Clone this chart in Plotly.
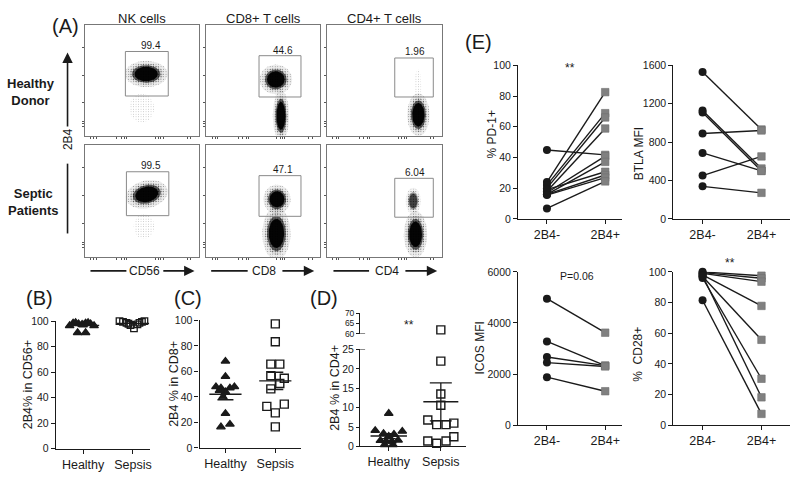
import numpy as np
import plotly.graph_objects as go

W, H = 800, 479

# ---------------- Panel A : flow cytometry ----------------
flow_titles = ["NK cells", "CD8+ T cells", "CD4+ T cells"]
flow_rows = ["Healthy<br>Donor", "Septic<br>Patients"]
flow_xlabels = ["CD56", "CD8", "CD4"]
gate_pct = ["99.4", "44.6", "1.96", "99.5", "47.1", "6.04"]
gate_x0 = [35.7, 46.2, 58.9, 36.6, 46.2, 58.9]
gate_x1 = [73.4, 83.1, 92.5, 73.9, 83.1, 92.5]
gate_y0 = [36.0, 35.1, 35.1, 36.8, 36.2, 35.4]
gate_y1 = [76.4, 72.6, 70.5, 76.3, 72.8, 70.4]
label_x = [57.9, 67.5, 76.5, 57.9, 67.5, 76.5]
label_y = [81.4, 77.6, 76.4, 82.2, 78.4, 75.7]
# cell populations (panel, centre, half-extent, tilt, density)
pop_panel = [0, 0, 1, 1, 2, 2, 3, 3, 4, 4, 5, 5]
pop_cx = [54, 50, 61, 65.5, 79.5, 79, 54.5, 52, 62, 61.5, 75, 77]
pop_cy = [56, 25, 51, 18, 19, 45, 56, 27, 51.5, 20.8, 50, 20]
pop_sx = [12.5, 11, 9.5, 4.8, 6.5, 3, 12.5, 9, 8, 8.3, 4.4, 6.8]
pop_sy = [8, 13, 9, 15.5, 13, 15, 8.3, 11, 8.8, 16, 8, 14]
pop_tilt = [0, 0, 0, 0, 0, 0, 14, 0, 0, 0, 0, 0]
pop_dens = [1, 0.15, 1, 1, 1, 0.15, 1, 0.15, 1, 1, 0.6, 1]

# ---------------- Panels B, C, D ----------------
groups = ["Healthy", "Sepsis"]
b_healthy = [96.5, 98.5, 99.0, 98.0, 97.5, 98.5, 99.0, 98.0, 96.5, 91.0, 91.0, 97.0]
b_healthy_dx = [-0.27, -0.2, -0.15, -0.09, -0.02, 0.05, 0.1, 0.15, 0.22, -0.11, 0.05, 0.0]
b_sepsis = [100, 99.5, 98.7, 98.0, 97.0, 94.4, 97.5, 98.7, 99.5, 100]
b_sepsis_dx = [-0.27, -0.2, -0.13, -0.09, -0.05, 0.02, 0.09, 0.13, 0.18, 0.23]

c_healthy = [68, 56, 48, 47, 47, 48, 44, 45, 40, 27, 16.5, 18.6]
c_healthy_dx = [0, 0, -0.19, -0.09, 0.09, 0.18, 0.0, -0.12, -0.05, 0, -0.09, 0.09]
c_sepsis = [97.3, 83.3, 65.7, 65.7, 56.6, 54.7, 50.5, 46.3, 32.6, 34.4, 27.5, 16.5]
c_sepsis_dx = [0, 0, -0.09, 0.09, -0.09, 0.18, 0.09, -0.09, -0.17, 0.18, 0, 0]

d_healthy = [8.5, 4.1, 3.9, 3.3, 3.1, 2.6, 1.5, 1.3, 1.3, 1.6, 0.4, 0.4]
d_healthy_dx = [0, -0.26, 0.26, -0.1, 0.1, 0.0, -0.16, -0.05, 0.06, 0.18, -0.08, 0.08]
d_sepsis = [61.8, 22.0, 13.5, 10.6, 6.8, 5.6, 5.6, 6.0, 1.4, 0.8, 1.4, 2.5]
d_sepsis_dx = [0, 0, 0, 0, -0.25, -0.08, 0.1, 0.25, -0.25, -0.08, 0.1, 0.25]

# ---------------- Panel E (paired) ----------------
pair_labels = ["2B4-", "2B4+"]
e_pd1_neg = [44.9, 24.0, 22.0, 20.0, 18.0, 17.0, 16.0, 19.0, 16.0, 15.5, 6.8]
e_pd1_pos = [41.7, 82.6, 68.9, 66.1, 58.9, 40.9, 37.1, 30.7, 28.6, 26.9, 24.4]
e_btla_neg = [1532, 1130, 1110, 891, 688, 451, 339]
e_btla_pos = [932, 525, 500, 922, 500, 651, 271]
e_icos_neg = [4950, 3280, 2670, 2450, 1880]
e_icos_pos = [3620, 2330, 2330, 2300, 1330]
e_cd28_neg = [100, 99.5, 99, 98, 97, 96, 97.5, 81.5]
e_cd28_pos = [97.5, 95.8, 93.6, 77.8, 55.7, 30.3, 18.2, 7.4]

# ======================================================
FONT = "Arial, Liberation Sans, sans-serif"
INK = "#1a1a1a"


def fx(p):
    return p / W


def fy(p):
    return 1 - p / H


fig = go.Figure()
layout = dict(width=W, height=H, margin=dict(l=0, r=0, t=0, b=0),
              paper_bgcolor="white", plot_bgcolor="rgba(0,0,0,0)",
              showlegend=False, font=dict(family=FONT, color=INK))
annotations = []
shapes = []


def ann(text, x, y, size, **kw):
    d = dict(text=text, x=fx(x), y=fy(y), xref="paper", yref="paper",
             showarrow=False, font=dict(size=size, family=FONT, color=INK),
             xanchor="center", yanchor="middle")
    d.update(kw)
    annotations.append(d)


# ---------- Panel A axes ----------
cols = [(85, 199), (207, 321), (328, 443)]
rows = [(20, 133), (143, 257)]
for i in range(6):
    r, c = divmod(i, 3)
    n = i + 1
    layout[f"xaxis{n}"] = dict(domain=[fx(cols[c][0]), fx(cols[c][1])], range=[0, 100],
                               anchor=f"y{n}", showline=True, mirror=True, linecolor="#777",
                               linewidth=1, ticks="outside", ticklen=2, tickcolor="#555",
                               tickvals=[5, 8, 10, 28, 32, 35, 37, 62, 65, 67, 69, 90, 93],
                               showticklabels=False, showgrid=False, zeroline=False)
    layout[f"yaxis{n}"] = dict(domain=[fy(rows[r][1]), fy(rows[r][0])], range=[0, 100],
                               anchor=f"x{n}", showline=True, mirror=True, linecolor="#777",
                               linewidth=1, ticks="outside", ticklen=2, tickcolor="#555",
                               tickvals=[8, 11, 13, 30, 55, 80],
                               showticklabels=False, showgrid=False, zeroline=False)


def ellipse(cx, cy, rx, ry, ang, n=72):
    t = np.linspace(0, 2 * np.pi, n)
    a = np.deg2rad(ang)
    x = rx * np.cos(t)
    y = ry * np.sin(t)
    return cx + x * np.cos(a) - y * np.sin(a), cy + x * np.sin(a) + y * np.cos(a)


for k in range(len(pop_panel)):
    n = pop_panel[k] + 1
    d = pop_dens[k]
    if d < 0.3:
        layers = [(1.0, "pattern", 0.07)]
    else:
        layers = [(1.5, "halo", 0.07 * d), (1.5, "pattern", 0.12 * d), (1.2, "pattern", 0.3 * d),
                  (1.0, "solid", 0.6 * d), (0.82, "solid", 0.95 * d)]
    for scale, kind, val in layers:
        ex, ey = ellipse(pop_cx[k], pop_cy[k], pop_sx[k] * scale, pop_sy[k] * scale, pop_tilt[k])
        kw = dict(x=ex, y=ey, mode="lines", fill="toself", line=dict(width=0),
                  xaxis=f"x{n}", yaxis=f"y{n}", hoverinfo="skip")
        if kind in ("solid", "halo"):
            kw["fillcolor"] = f"rgba(0,0,0,{val:.3f})"
        else:
            kw["fillcolor"] = "rgba(0,0,0,0)"
            kw["fillpattern"] = dict(shape=".", size=2.5, solidity=min(val, 0.9), fgcolor="black",
                                     bgcolor="rgba(0,0,0,0)")
        fig.add_trace(go.Scatter(**kw))

for i in range(6):
    n = i + 1
    shapes.append(dict(type="rect", xref=f"x{n}", yref=f"y{n}", x0=gate_x0[i], x1=gate_x1[i],
                       y0=gate_y0[i], y1=gate_y1[i], line=dict(color="#8a8a8a", width=1)))
    annotations.append(dict(text=gate_pct[i], x=label_x[i], y=label_y[i], xref=f"x{n}", yref=f"y{n}",
                            showarrow=False, font=dict(size=10, family=FONT, color=INK)))

ann("(A)", 65.7, 21, 20)
for c, t in enumerate(flow_titles):
    ann(t, (cols[c][0] + cols[c][1]) / 2, 12.5, 13)
ann(flow_rows[0], 31, 88, 13, font=dict(size=13, family=FONT, color=INK, weight="bold"))
ann(flow_rows[1], 34, 201, 13, font=dict(size=13, family=FONT, color=INK, weight="bold"))
ann("2B4", 67.7, 137, 12, textangle=-90)

# vertical arrow
shapes.append(dict(type="line", xref="paper", yref="paper", x0=fx(67.7), x1=fx(67.7),
                   y0=fy(233.3), y1=fy(161.7), line=dict(color=INK, width=1.6)))
annotations.append(dict(x=fx(67.7), y=fy(47.7), xref="paper", yref="paper", text="",
                        showarrow=True, ax=0, ay=123.3 - 47.7, arrowhead=2, arrowsize=1.3,
                        arrowwidth=1.6, arrowcolor=INK))
# horizontal arrows
harrows = [(90.7, 126.7, 145, 162.3, 195), (211.7, 248.3, 265, 281.7, 315), (334.3, 370, 388, 405, 438.3)]
for (l0, l1, tx, a0, a1), lab in zip(harrows, flow_xlabels):
    shapes.append(dict(type="line", xref="paper", yref="paper", x0=fx(l0), x1=fx(l1),
                       y0=fy(271.7), y1=fy(271.7), line=dict(color=INK, width=1.6)))
    annotations.append(dict(x=fx(a1), y=fy(271.7), xref="paper", yref="paper", text="",
                            showarrow=True, ax=-(a1 - a0), ay=0, arrowhead=2, arrowsize=1.3,
                            arrowwidth=1.6, arrowcolor=INK))
    ann(lab, tx, 272, 12)


# ---------- dot-plot panels ----------
def value_axes(n, xdom, ydom, xr, yr, tickvals, ticktext=None):
    layout[f"xaxis{n}"] = dict(domain=[fx(xdom[0]), fx(xdom[1])], range=xr, anchor=f"y{n}",
                               showline=True, linecolor=INK, linewidth=1.1, ticks="outside",
                               ticklen=4, tickwidth=1, tickcolor=INK, tickvals=[0, 1],
                               ticktext=ticktext, tickfont=dict(size=12.5, family=FONT, color=INK),
                               showgrid=False, zeroline=False)
    layout[f"yaxis{n}"] = dict(domain=[fy(ydom[0]), fy(ydom[1])], range=yr, anchor=f"x{n}",
                               showline=True, linecolor=INK, linewidth=1.1, ticks="outside",
                               ticklen=4, tickwidth=1, tickcolor=INK, tickvals=tickvals,
                               tickfont=dict(size=10.5, family=FONT, color=INK),
                               showgrid=False, zeroline=False)


def mean_sem(v):
    a = np.asarray(v, float)
    return a.mean(), a.std(ddof=1) / np.sqrt(len(a))


def dots(n, vals, dx, grp, symbol, size, yaxis=None, lw=1.3):
    fig.add_trace(go.Scatter(x=[grp + d for d in dx], y=vals, mode="markers",
                             marker=dict(symbol=symbol, size=size, color=INK,
                                         line=dict(color=INK, width=lw)),
                             xaxis=f"x{n}", yaxis=yaxis or f"y{n}", cliponaxis=False,
                             hoverinfo="skip"))


def meanbar(n, vals, grp, msize, capw):
    m, s = mean_sem(vals)
    fig.add_trace(go.Scatter(x=[grp], y=[m], mode="markers",
                             marker=dict(symbol="line-ew", size=msize, line=dict(color=INK, width=1.4)),
                             error_y=dict(type="data", array=[s], color=INK, thickness=1.3, width=capw),
                             xaxis=f"x{n}", yaxis=f"y{n}", cliponaxis=False, hoverinfo="skip"))


# B
value_axes(7, (56, 150), (454, 323.3), [-0.546, 1.334], [0, 100], [0, 20, 40, 60, 80, 100], groups)
dots(7, b_healthy, b_healthy_dx, 0, "triangle-up", 7.5)
dots(7, b_sepsis, b_sepsis_dx, 1, "square-open", 6.5)
meanbar(7, b_healthy, 0, 23, 4)
meanbar(7, b_sepsis, 1, 23, 4)
ann("(B)", 40, 300, 20)
ann("2B4% in CD56+", 28, 388, 12.5, textangle=-90)

# C
value_axes(8, (200, 302), (453.3, 322.5), [-0.52, 1.52], [0, 100], [0, 20, 40, 60, 80, 100], groups)
dots(8, c_healthy, c_healthy_dx, 0, "triangle-up", 7.5)
dots(8, c_sepsis, c_sepsis_dx, 1, "square-open", 8, lw=1.4)
meanbar(8, c_healthy, 0, 23, 8)
meanbar(8, c_sepsis, 1, 23, 8)
ann("(C)", 188, 300, 20)
ann("2B4 % in CD8+", 175, 388, 12.5, textangle=-90)

# D (broken axis)
value_axes(9, (361, 467), (451.7, 352.3), [-0.55, 1.48], [0, 25], [0, 5, 10, 15, 20, 25], groups)
layout["yaxis9"]["ticklen"] = 3
layout["yaxis10"] = dict(domain=[fy(336), fy(315)], range=[60, 70], anchor="x9",
                         showline=True, linecolor=INK, linewidth=1.1, ticks="outside",
                         ticklen=3, tickwidth=1, tickcolor=INK, tickvals=[60, 65, 70],
                         tickfont=dict(size=8.5, family=FONT, color=INK),
                         showgrid=False, zeroline=False)
dh_lo = [(v, d) for v, d in zip(d_healthy, d_healthy_dx) if v <= 25]
ds_lo = [(v, d) for v, d in zip(d_sepsis, d_sepsis_dx) if v <= 25]
ds_hi = [(v, d) for v, d in zip(d_sepsis, d_sepsis_dx) if v > 25]
dots(9, [v for v, _ in dh_lo], [d for _, d in dh_lo], 0, "triangle-up", 7.5)
dots(9, [v for v, _ in ds_lo], [d for _, d in ds_lo], 1, "square-open", 8, lw=1.4)
dots(9, [v for v, _ in ds_hi], [d for _, d in ds_hi], 1, "square-open", 8, yaxis="y10", lw=1.4)
meanbar(9, d_healthy, 0, 26, 7)
meanbar(9, d_sepsis, 1, 25, 11)
for yv, yr in [(25, "y9"), (60, "y10")]:
    shapes.append(dict(type="line", xref="paper", yref=yr, x0=fx(361), x1=fx(366), y0=yv, y1=yv,
                       line=dict(color=INK, width=1.1)))
ann("(D)", 325, 300, 20)
ann("2B4 % in CD4+", 336.5, 392, 12.5, textangle=-90)
ann("**", 410, 327, 12)


# ---------- Panel E ----------
def paired(n, neg, pos):
    xs, ys = [], []
    for a, b in zip(neg, pos):
        xs += [0, 1, None]
        ys += [a, b, None]
    fig.add_trace(go.Scatter(x=xs, y=ys, mode="lines", line=dict(color=INK, width=1.4),
                             xaxis=f"x{n}", yaxis=f"y{n}", cliponaxis=False, hoverinfo="skip"))
    fig.add_trace(go.Scatter(x=[1] * len(pos), y=pos, mode="markers",
                             marker=dict(symbol="square", size=7.5, color="#808080",
                                         line=dict(color="#6e6e6e", width=0.6)),
                             xaxis=f"x{n}", yaxis=f"y{n}", cliponaxis=False, hoverinfo="skip"))
    fig.add_trace(go.Scatter(x=[0] * len(neg), y=neg, mode="markers",
                             marker=dict(symbol="circle", size=8, color=INK),
                             xaxis=f"x{n}", yaxis=f"y{n}", cliponaxis=False, hoverinfo="skip"))


value_axes(11, (519.3, 623.3), (218.3, 61), [-0.497, 1.284], [0, 100], [0, 20, 40, 60, 80, 100], pair_labels)
value_axes(12, (675, 791.7), (218.3, 61), [-0.497, 1.48], [0, 1600], [0, 400, 800, 1200, 1600], pair_labels)
value_axes(13, (519.3, 623.3), (430, 272.7), [-0.497, 1.284], [0, 6000], [0, 2000, 4000, 6000], pair_labels)
value_axes(14, (675, 791.7), (430, 272.7), [-0.497, 1.48], [0, 100], [0, 20, 40, 60, 80, 100], pair_labels)
paired(11, e_pd1_neg, e_pd1_pos)
paired(12, e_btla_neg, e_btla_pos)
paired(13, e_icos_neg, e_icos_pos)
paired(14, e_cd28_neg, e_cd28_pos)

ann("(E)", 480, 37.3, 20)
ann("% PD-1+", 493.3, 131.7, 12, textangle=-90)
ann("BTLA MFI", 640, 151.7, 12, textangle=-90)
ann("ICOS MFI", 481.7, 350.8, 12, textangle=-90)
ann("%  CD28+", 640, 357.3, 12, textangle=-90)
ann("**", 571.7, 64, 12)
ann("P=0.06", 578.3, 277.3, 10.5)
ann("**", 731.7, 264, 12)

layout["annotations"] = annotations
layout["shapes"] = shapes
fig.update_layout(**layout)
fig.write_html("out.html", config={"displayModeBar": False},
               post_script="document.body.style.margin='0';")
